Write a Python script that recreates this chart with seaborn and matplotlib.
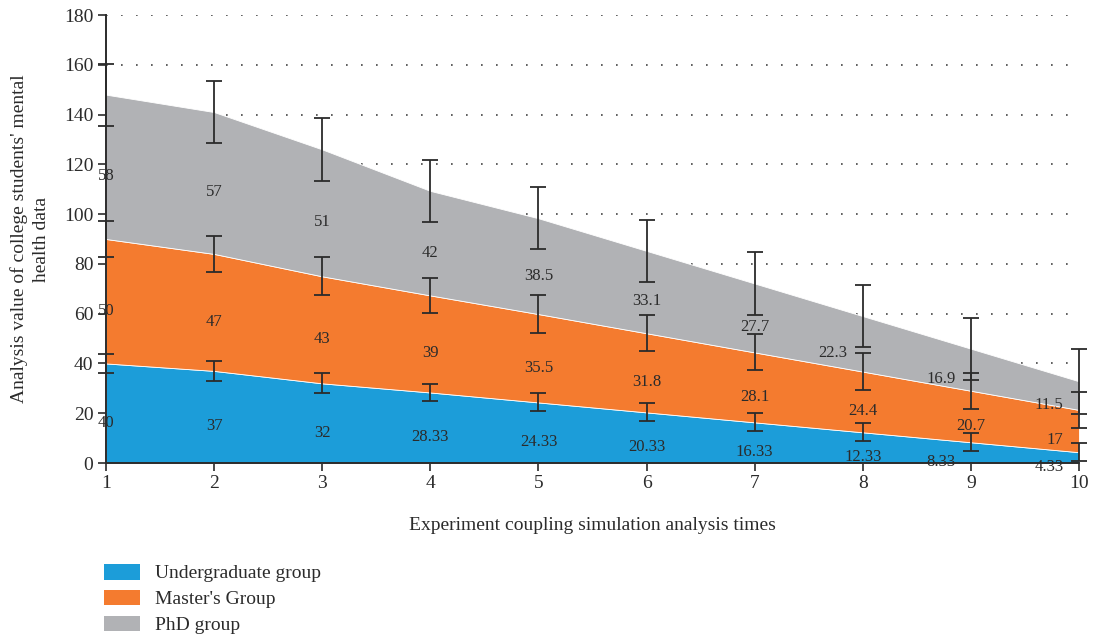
'''stacked area chart of mental health analysis values with error bars'''
import numpy as np
import pandas as pd
import seaborn as sns
import matplotlib.pyplot as plt
from matplotlib.patches import Patch

#region data
runs = [1, 2, 3, 4, 5, 6, 7, 8, 9, 10]
groups = ['Undergraduate group', "Master's Group", 'PhD group']
undergrad = [40, 37, 32, 28.33, 24.33, 20.33, 16.33, 12.33, 8.33, 4.33]
masters = [50, 47, 43, 39, 35.5, 31.8, 28.1, 24.4, 20.7, 17]
phd = [58, 57, 51, 42, 38.5, 33.1, 27.7, 22.3, 16.9, 11.5]
undergrad_err = [3.7, 4.0, 4.0, 3.6, 3.6, 3.6, 3.6, 3.6, 3.6, 3.6]
masters_err = [7.3, 7.3, 7.6, 7.2, 7.6, 7.3, 7.2, 7.3, 7.3, 7.3]
phd_err = [12.5, 12.5, 12.6, 12.5, 12.5, 12.6, 12.6, 12.5, 12.5, 13.0]
yticks = [0, 20, 40, 60, 80, 100, 120, 140, 160, 180]
#endregion

colors = ['#1c9dd9', '#f47b2f', '#b1b2b5']
ink = '#2b2b2b'

sns.set_theme(style='white')
plt.rcParams['font.family'] = ['Liberation Serif', 'DejaVu Serif']
plt.rcParams['text.color'] = ink
plt.rcParams['axes.labelcolor'] = ink
plt.rcParams['xtick.color'] = ink
plt.rcParams['ytick.color'] = ink

df = pd.DataFrame({'run': runs, groups[0]: undergrad, groups[1]: masters, groups[2]: phd})
errs = {groups[0]: undergrad_err, groups[1]: masters_err, groups[2]: phd_err}

fig = plt.figure(figsize=(10.93, 6.42), dpi=100)
ax = fig.add_axes([106 / 1093, 1 - 463 / 642, (1079 - 106) / 1093, (463 - 15) / 642])

ax.set_axisbelow(True)
ax.grid(axis='y', linestyle=(0, (1, 8)), linewidth=1.2, color='#444444')
ax.grid(axis='x', visible=False)

polys = ax.stackplot(df['run'], [df[g] for g in groups], colors=colors,
                     edgecolor='white', linewidth=0.6, zorder=1)

tops = np.cumsum(np.array([df[g] for g in groups]), axis=0)
bottoms = tops - np.array([df[g] for g in groups])

for i, g in enumerate(groups):
    ax.errorbar(df['run'], tops[i], yerr=errs[g], fmt='none', ecolor=ink,
                elinewidth=1.3, capsize=5.8, capthick=1.3, zorder=3, clip_on=False)

# labels sit just under the middle of each band; crowded ones move left of the bar
shift_left = {(2, 7), (2, 8), (2, 9), (1, 9), (0, 8), (0, 9)}
for i, g in enumerate(groups):
    for j, r in enumerate(df['run']):
        mid = (tops[i][j] + bottoms[i][j]) / 2
        val = df[g][j]
        txt = ('%g' % val)
        if (i, j) in shift_left:
            ax.annotate(txt, (r, mid), xytext=(-11, -1), textcoords='offset points',
                        ha='right', va='top', fontsize=12, color=ink, zorder=4)
        else:
            ax.annotate(txt, (r, mid), xytext=(0, -1), textcoords='offset points',
                        ha='center', va='top', fontsize=12, color=ink, zorder=4)

ax.set_xlim(1, 10)
ax.set_ylim(0, 180)
ax.set_xticks(runs)
ax.set_yticks(yticks)
ax.tick_params(axis='both', which='major', labelsize=14, length=6, width=1.2,
               direction='out', left=True, bottom=True, pad=3)
sns.despine(ax=ax)
for side in ['left', 'bottom']:
    ax.spines[side].set_color(ink)
    ax.spines[side].set_linewidth(1.4)
    ax.spines[side].set_zorder(5)

ax.set_xlabel('Experiment coupling simulation analysis times', fontsize=14, labelpad=18)
ax.set_ylabel("Analysis value of college students' mental\nhealth data", fontsize=14,
              labelpad=10, linespacing=1.4)

handles = [Patch(facecolor=c, edgecolor='none') for c in colors]
fig.legend(handles, groups, loc='upper left', bbox_to_anchor=(104 / 1093, 1 - 564 / 642),
           frameon=False, fontsize=14, handlelength=1.85, handleheight=0.85,
           handletextpad=0.75, labelspacing=0.38, borderpad=0, borderaxespad=0)

fig.savefig('out.png', dpi=100)
